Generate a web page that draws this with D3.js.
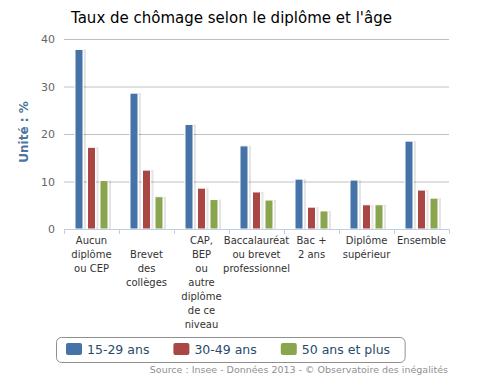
<!DOCTYPE html>
<html>
<head>
<meta charset="utf-8">
<script src="https://cdn.jsdelivr.net/npm/d3@7"></script>
<style>
  body { margin: 0; background: #fff; }
  text { font-family: "DejaVu Sans", Verdana, sans-serif; }
</style>
</head>
<body>
<svg id="chart" width="491" height="381"></svg>
<script>
// categories (labels split on lines, "" = empty first line)
var categories = [
  ["Aucun", "diplôme", "ou CEP"],
  ["", "Brevet", "des", "collèges"],
  ["CAP,", "BEP", "ou", "autre", "diplôme", "de ce", "niveau"],
  ["Baccalauréat", "ou brevet", "professionnel"],
  ["Bac +", "2 ans"],
  ["Diplôme", "supérieur"],
  ["Ensemble"]
];
var seriesNames = ["15-29 ans", "30-49 ans", "50 ans et plus"];
var seriesColors = ["#4572A7", "#AA4643", "#89A54E"];
var young = [37.8, 28.6, 22.0, 17.5, 10.5, 10.3, 18.5];
var middle = [17.2, 12.4, 8.6, 7.8, 4.6, 5.1, 8.2];
var senior = [10.2, 6.8, 6.2, 6.1, 3.8, 5.1, 6.5];
var yTicks = [0, 10, 20, 30, 40];

var series = [young, middle, senior];

var svg = d3.select("#chart");
var margin = { left: 64, right: 42, top: 39, bottom: 152 };
var width = 491 - margin.left - margin.right,
    height = 381 - margin.top - margin.bottom;

var x0 = d3.scaleBand().domain(d3.range(categories.length)).range([0, width]);
var x1 = d3.scaleBand().domain(d3.range(series.length)).range([x0.bandwidth() / 2 - 16.5, x0.bandwidth() / 2 + 16.5]).paddingInner(0.36);
var y = d3.scaleLinear().domain([0, 40]).range([height, 0]);

var g = svg.append("g").attr("transform", "translate(" + margin.left + "," + margin.top + ")");

// title
svg.append("text")
  .attr("x", 71).attr("y", 23)
  .attr("font-size", 15).attr("fill", "#000")
  .text("Taux de chômage selon le diplôme et l'âge");

// grid lines
g.selectAll(".grid").data(yTicks.slice(1)).enter().append("line")
  .attr("x1", 0).attr("x2", width)
  .attr("y1", function(d) { return y(d) + 0.5; })
  .attr("y2", function(d) { return y(d) + 0.5; })
  .attr("stroke", "#C0C0C0");

// y labels
g.selectAll(".ylab").data(yTicks).enter().append("text")
  .attr("x", -9).attr("y", function(d) { return y(d) + 4; })
  .attr("text-anchor", "end").attr("font-size", 11).attr("fill", "#666")
  .text(function(d) { return d; });

// y title
svg.append("text")
  .attr("transform", "translate(28,132) rotate(-90)")
  .attr("text-anchor", "middle").attr("font-size", 12).attr("font-weight", "bold")
  .attr("fill", "#4D759E")
  .text("Unité : %");

// bars
var groups = g.selectAll(".cat").data(categories).enter().append("g")
  .attr("transform", function(d, i) { return "translate(" + x0(i) + ",0)"; });

series.forEach(function(vals, s) {
  // shadow
  groups.append("rect")
    .attr("x", x1(s) + 1).attr("y", function(d, i) { return y(vals[i]) + 1; })
    .attr("width", x1.bandwidth() + 1)
    .attr("height", function(d, i) { return height - y(vals[i]) - 1; })
    .attr("fill", "none").attr("stroke", "#000").attr("stroke-opacity", 0.1).attr("stroke-width", 2);
  groups.append("rect")
    .attr("x", x1(s)).attr("y", function(d, i) { return y(vals[i]); })
    .attr("width", x1.bandwidth())
    .attr("height", function(d, i) { return height - y(vals[i]); })
    .attr("fill", seriesColors[s]).attr("stroke", "#fff").attr("stroke-width", 1);
});

// x axis line and ticks
g.append("line").attr("x1", 0).attr("x2", width)
  .attr("y1", height + 0.5).attr("y2", height + 0.5)
  .attr("stroke", "#C0D0E0");
g.selectAll(".tick").data(d3.range(categories.length + 1)).enter().append("line")
  .attr("x1", function(d) { return d * x0.bandwidth() + 0.5; })
  .attr("x2", function(d) { return d * x0.bandwidth() + 0.5; })
  .attr("y1", height).attr("y2", height + 5)
  .attr("stroke", "#C0D0E0");

// x labels
groups.append("text")
  .attr("font-size", 10).attr("fill", "#333").attr("text-anchor", "middle")
  .each(function(lines) {
    var t = d3.select(this);
    lines.forEach(function(l, k) {
      t.append("tspan").attr("x", x0.bandwidth() / 2).attr("y", height + 15 + k * 14).text(l);
    });
  });

// legend
var legend = svg.append("g");
var box = legend.append("rect")
  .attr("y", 337.5).attr("height", 25).attr("rx", 5)
  .attr("fill", "#fff").attr("stroke", "#909090");
var lx = 66;
seriesNames.forEach(function(name, s) {
  legend.append("rect").attr("x", lx).attr("y", 343).attr("width", 16).attr("height", 12)
    .attr("rx", 2).attr("fill", seriesColors[s]);
  var t = legend.append("text").attr("x", lx + 21).attr("y", 354)
    .attr("font-size", 12.5).attr("fill", "#274B6D").text(name);
  lx += 21 + t.node().getComputedTextLength() + 24;
});
box.attr("x", 56.5).attr("width", lx - 56.5 - 9);

// credits
svg.append("text")
  .attr("x", 448).attr("y", 373).attr("text-anchor", "end")
  .attr("font-size", 9.5).attr("fill", "#909090")
  .text("Source : Insee - Données 2013 - © Observatoire des inégalités");
</script>
</body>
</html>
